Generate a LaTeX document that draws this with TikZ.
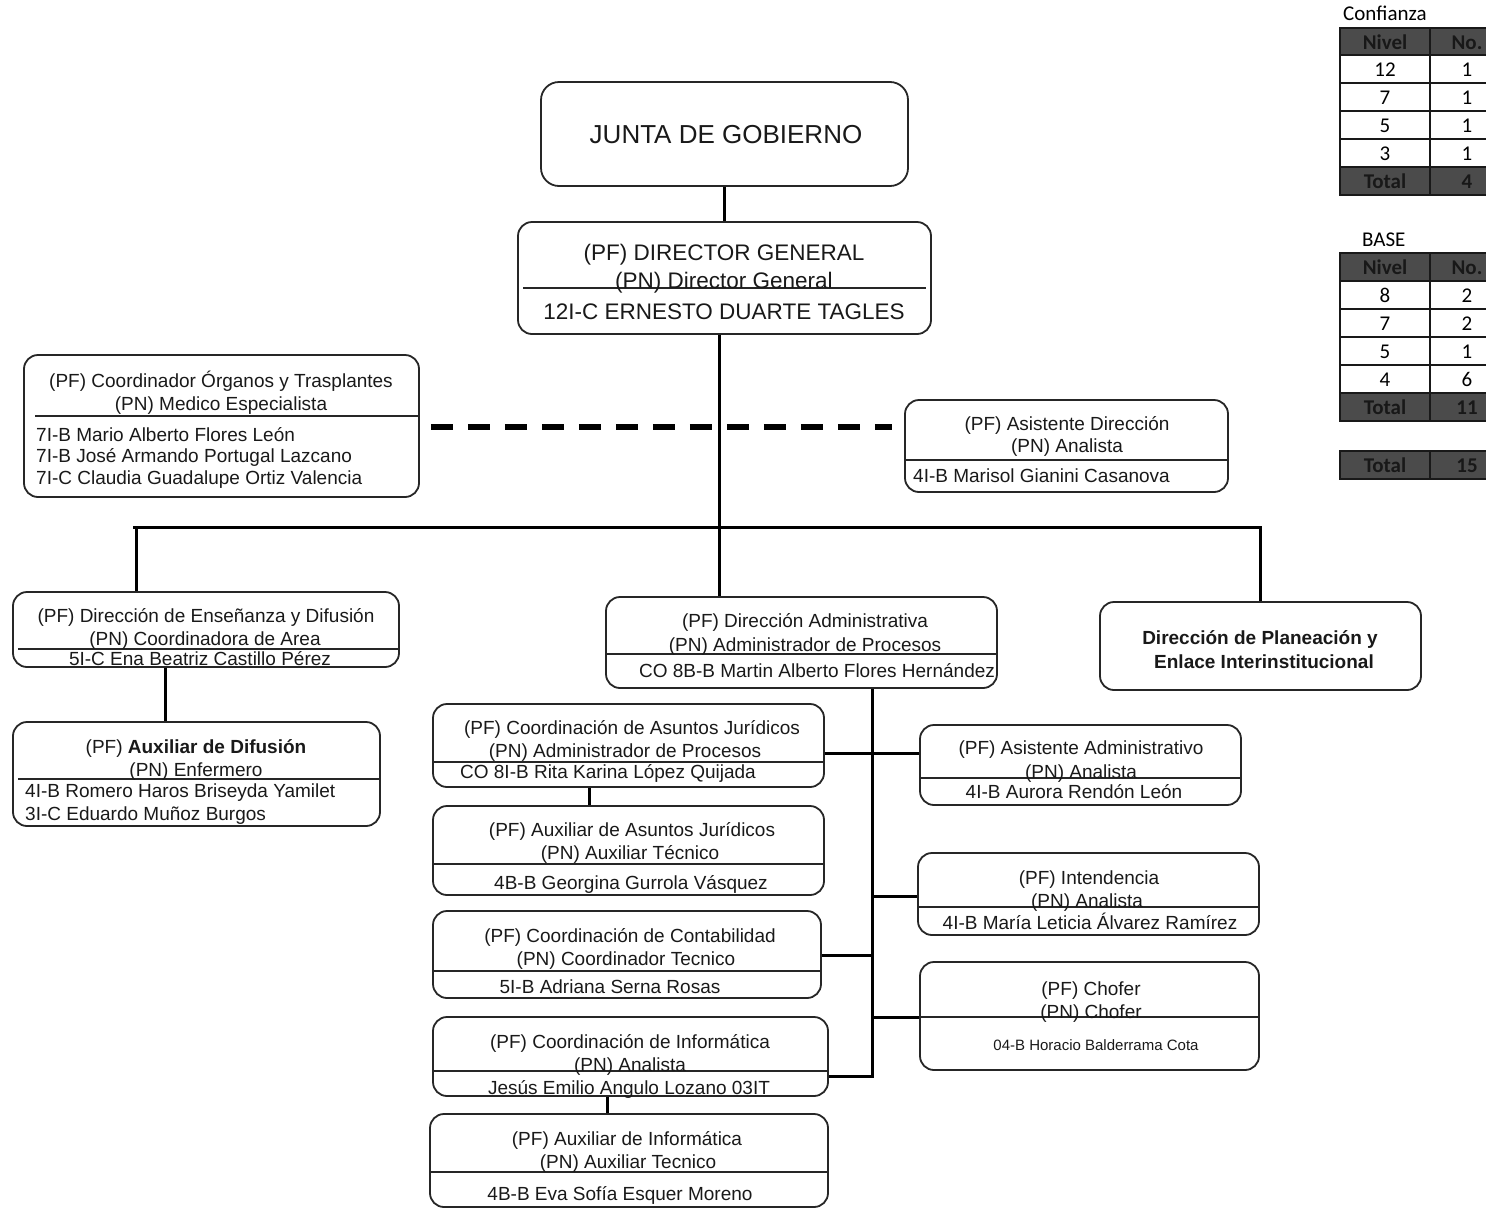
\documentclass[tikz,border=0pt]{standalone}
\usepackage{fontspec}
\setmainfont{Liberation Sans}
\newfontfamily\calib{Carlito}
\usetikzlibrary{fit,calc}
\newcommand\fA{\fontsize{19}{23}\selectfont}
\newcommand\fB{\fontsize{22.5}{26}\selectfont}
\newcommand\fC{\fontsize{26}{30}\selectfont}
\newcommand\fD{\fontsize{15}{18}\selectfont}
\newcommand\fT{\calib\fontsize{21}{24}\selectfont}
\definecolor{tdark}{RGB}{75,75,75}
\definecolor{ttext}{RGB}{24,24,24}
\newcounter{tl}
\newcommand\TL[4][ln]{\stepcounter{tl}\node[#1] (tl\arabic{tl}) at (#2,#3) {#4};}
\tikzset{
  box/.style={draw=black!85, line width=1.8pt, rounded corners=14pt, inner sep=0pt},
  conn/.style={draw=black, line width=3pt},
  sepl/.style={draw=black!85, line width=1.5pt},
  dashln/.style={draw=black, line width=6pt, dash pattern=on 22pt off 15pt},
  ln/.style={anchor=base, inner sep=0pt, font=\fA, text=black!90},
  lnl/.style={ln, anchor=base west},
  lnb/.style={ln, font=\fB},
  lnd/.style={ln, font=\fD},
  lnj/.style={ln, font=\fC},
  lnh/.style={ln, font=\fA\bfseries},
  tc/.style={anchor=base, inner sep=0pt, font=\fT, text=black},
  th/.style={tc, font=\fT\bfseries, text=ttext},
  tgrid/.style={draw=black!90, line width=1.6pt},
}
\begin{document}
\begin{tikzpicture}[x=1pt,y=-1pt]
\useasboundingbox (0,0) rectangle (1486,1208);
\clip (0,0) rectangle (1486,1208);

% ---------- boxes ----------
\node[box, rounded corners=18pt, fit={(541,82) (908,186)}] (junta) {};
\node[box, fit={(518,222) (931,334)}] (dg) {};
\node[box, fit={(24,355) (419,497)}] (b3) {};
\node[box, fit={(905,400) (1228,492)}] (b4) {};
\node[box, fit={(13,592) (399,667)}] (b5) {};
\node[box, fit={(13,722) (380,826)}] (b6) {};
\node[box, fit={(606,597) (997,688)}] (b7) {};
\node[box, fit={(433,704) (824,787)}] (b8) {};
\node[box, fit={(433,806) (824,895)}] (b9) {};
\node[box, fit={(433,911) (821,998)}] (b10) {};
\node[box, fit={(433,1017) (828,1096)}] (b12) {};
\node[box, fit={(430,1114) (828,1207)}] (b13) {};
\node[box, fit={(920,725) (1241,805)}] (b11) {};
\node[box, fit={(918,853) (1259,935)}] (b14) {};
\node[box, fit={(920,962) (1259,1070)}] (b15) {};
\node[box, fit={(1100,602) (1421,690)}] (b16) {};

% ---------- separators ----------
\draw[sepl] (523,288) -- (926,288);
\draw[sepl] (35,416) -- (419,416);
\draw[sepl] (905,460) -- (1228,460);
\draw[sepl] (18,649) -- (399,649);
\draw[sepl] (18,779) -- (380,779);
\draw[sepl] (606,654) -- (997,654);
\draw[sepl] (433,762) -- (824,762);
\draw[sepl] (433,864) -- (824,864);
\draw[sepl] (433,971) -- (821,971);
\draw[sepl] (433,1071) -- (828,1071);
\draw[sepl] (430,1172) -- (828,1172);
\draw[sepl] (920,778) -- (1241,778);
\draw[sepl] (918,907) -- (1259,907);
\draw[sepl] (920,1017) -- (1259,1017);

% ---------- texts ----------
\TL[lnj]{726}{143}{JUNTA DE GOBIERNO}
\TL[lnb]{724}{260}{(PF) DIRECTOR GENERAL}
\TL[lnb]{724}{288}{(PN) Director General}
\TL[lnb]{724}{319}{12I-C ERNESTO DUARTE TAGLES}

\TL{221}{387}{(PF) Coordinador Órganos y Trasplantes}
\TL{221}{410}{(PN) Medico Especialista}
\TL[lnl]{36}{441}{7I-B Mario Alberto Flores León}
\TL[lnl]{36}{462}{7I-B José Armando Portugal Lazcano}
\TL[lnl]{36}{484}{7I-C Claudia Guadalupe Ortiz Valencia}

\TL{1067}{430}{(PF) Asistente Dirección}
\TL{1067}{452}{(PN) Analista}
\TL[lnl]{913}{482}{4I-B Marisol Gianini Casanova}

\TL{206}{622}{(PF) Dirección de Enseñanza y Difusión}
\TL{205}{645}{(PN) Coordinadora de Area}
\TL{200}{665}{5I-C Ena Beatriz Castillo Pérez}

\TL{196}{753}{(PF) \textbf{Auxiliar de Difusión}}
\TL{196}{776}{(PN) Enfermero}
\TL[lnl]{25}{797}{4I-B Romero Haros Briseyda Yamilet}
\TL[lnl]{25}{820}{3I-C Eduardo Muñoz Burgos}

\TL{805}{627}{(PF) Dirección Administrativa}
\TL{805}{651}{(PN) Administrador de Procesos}
\TL{817}{677}{CO 8B-B Martin Alberto Flores Hernández}

\TL{632}{734}{(PF) Coordinación de Asuntos Jurídicos}
\TL{625}{757}{(PN) Administrador de Procesos}
\TL{608}{778}{CO 8I-B Rita Karina López Quijada}

\TL{632}{836}{(PF) Auxiliar de Asuntos Jurídicos}
\TL{630}{859}{(PN) Auxiliar Técnico}
\TL{631}{889}{4B-B Georgina Gurrola Vásquez}

\TL{630}{942}{(PF) Coordinación de Contabilidad}
\TL{626}{965}{(PN) Coordinador Tecnico}
\TL{610}{993}{5I-B Adriana Serna Rosas}

\TL{630}{1048}{(PF) Coordinación de Informática}
\TL{630}{1071}{(PN) Analista}
\TL{629}{1094}{Jesús Emilio Angulo Lozano 03IT}

\TL{627}{1145}{(PF) Auxiliar de Informática}
\TL{628}{1168}{(PN) Auxiliar Tecnico}
\TL{620}{1200}{4B-B Eva Sofía Esquer Moreno}

\TL{1081}{754}{(PF) Asistente Administrativo}
\TL{1081}{778}{(PN) Analista}
\TL{1074}{798}{4I-B Aurora Rendón León}

\TL{1089}{884}{(PF) Intendencia}
\TL{1087}{907}{(PN) Analista}
\TL{1090}{929}{4I-B María Leticia Álvarez Ramírez}

\TL{1091}{995}{(PF) Chofer}
\TL{1091}{1018}{(PN) Chofer}
\TL[lnd]{1096}{1050}{04-B Horacio Balderrama Cota}

\TL[lnh]{1260}{644}{Dirección de Planeación y}
\TL[lnh]{1264}{668}{Enlace Interinstitucional}

% ---------- connectors ----------
\coordinate (busL) at (136,527);
\coordinate (busR) at (1260,527);
\coordinate (busM) at (719,527);
\coordinate (x165) at (165,0);
\coordinate (x589) at (589,0);
\coordinate (x607) at (607,0);
\coordinate (spT) at (872,688);
\coordinate (spB) at (872,1076);
\coordinate (j8) at (872,753);
\coordinate (j10) at (872,955);
\coordinate (j14) at (872,896);
\coordinate (j15) at (872,1017);

\draw[conn] (junta) -- (dg);
\draw[conn] (dg.south -| busM) -- (b7.north -| busM);
\draw[conn] ($(busL)+(-3,0)$) -- ($(busR)+(2,0)$);
\draw[conn] (busL) -- (b5.north -| busL);
\draw[conn] (busR) -- (b16.north -| busR);
\draw[conn] (b5.south -| x165) -- (b6.north -| x165);
\draw[conn] (b7.south -| spT) -- ($(spB)+(0,1.5)$);
\draw[conn] (b8.east |- j8) -- (b11.west |- j8);
\draw[conn] (b10.east |- j10) -- (j10);
\draw[conn] (b12.east |- spB) -- (spB);
\draw[conn] (j14) -- (b14.west |- j14);
\draw[conn] (j15) -- (b15.west |- j15);
\draw[conn] (b8.south -| x589) -- (b9.north -| x589);
\draw[conn] (b12.south -| x607) -- (b13.north -| x607);
\draw[dashln] ($(b3.east)+(11,1)$) -- ($(b3.east -| b4.west)+(-12,1)$);

% ---------- tables ----------
\TL[tc, anchor=base west]{1343}{20}{Confianza}
\fill[tdark] (1340,28) rectangle (1504,55);
\fill[tdark] (1340,167) rectangle (1504,195);
\draw[tgrid] (1340,28) rectangle (1504,195);
\foreach \yy in {55,83,111,139,167} \draw[tgrid] (1340,\yy) -- (1504,\yy);
\draw[tgrid] (1430,28) -- (1430,195);
\TL[th]{1385}{49}{Nivel}  \TL[th]{1467}{49}{No.}
\TL[tc]{1385}{76}{12}     \TL[tc]{1467}{76}{1}
\TL[tc]{1385}{104}{7}     \TL[tc]{1467}{104}{1}
\TL[tc]{1385}{132}{5}     \TL[tc]{1467}{132}{1}
\TL[tc]{1385}{160}{3}     \TL[tc]{1467}{160}{1}
\TL[th]{1385}{188}{Total} \TL[th]{1467}{188}{4}

\TL[tc, anchor=base west]{1362}{246}{BASE}
\fill[tdark] (1340,253) rectangle (1504,281);
\fill[tdark] (1340,393) rectangle (1504,421);
\draw[tgrid] (1340,253) rectangle (1504,421);
\foreach \yy in {281,309,337,365,393} \draw[tgrid] (1340,\yy) -- (1504,\yy);
\draw[tgrid] (1430,253) -- (1430,421);
\TL[th]{1385}{274}{Nivel}  \TL[th]{1467}{274}{No.}
\TL[tc]{1385}{302}{8}      \TL[tc]{1467}{302}{2}
\TL[tc]{1385}{330}{7}      \TL[tc]{1467}{330}{2}
\TL[tc]{1385}{358}{5}      \TL[tc]{1467}{358}{1}
\TL[tc]{1385}{386}{4}      \TL[tc]{1467}{386}{6}
\TL[th]{1385}{414}{Total}  \TL[th]{1467}{414}{11}

\fill[tdark] (1340,451) rectangle (1504,479);
\draw[tgrid] (1340,451) rectangle (1504,479);
\draw[tgrid] (1430,451) -- (1430,479);
\TL[th]{1385}{472}{Total}  \TL[th]{1467}{472}{15}
\end{tikzpicture}
\end{document}
